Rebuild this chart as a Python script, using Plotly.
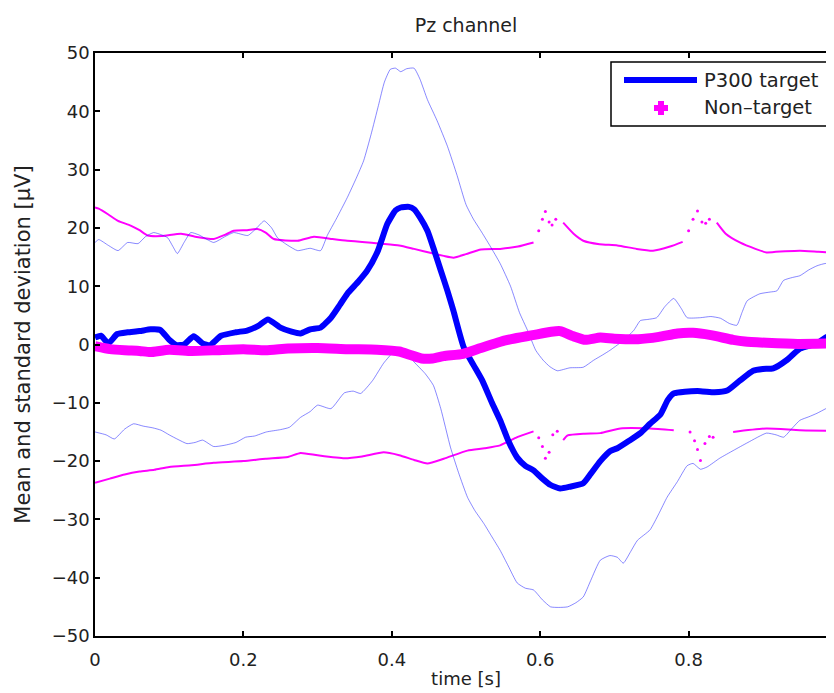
import plotly.graph_objects as go

# ---------------- data ----------------
t_mean_x = [0.0, 0.008, 0.018, 0.03, 0.044, 0.06, 0.075, 0.088, 0.1, 0.11, 0.12, 0.133, 0.145, 0.155, 0.17, 0.19,
            0.205, 0.22, 0.233, 0.25, 0.265, 0.277, 0.29, 0.304, 0.318, 0.33, 0.34, 0.355, 0.367, 0.381, 0.394,
            0.405, 0.412, 0.423, 0.43, 0.438, 0.448, 0.457, 0.466, 0.475, 0.483, 0.497, 0.51, 0.522, 0.535, 0.546,
            0.557, 0.569, 0.58, 0.591, 0.603, 0.614, 0.627, 0.64, 0.658, 0.668, 0.681, 0.694, 0.704, 0.72, 0.735,
            0.748, 0.762, 0.772, 0.78, 0.795, 0.816, 0.835, 0.852, 0.869, 0.887, 0.9, 0.914, 0.932, 0.95, 0.973,
            0.985, 1.0]
t_mean_y = [1.2, 1.5, 0.2, 1.8, 2.1, 2.3, 2.6, 2.5, 0.8, -0.1, 0.0, 1.4, 0.2, -0.1, 1.5, 2.1,
            2.4, 3.2, 4.3, 2.9, 2.2, 1.9, 2.6, 2.9, 4.6, 6.8, 8.7, 10.8, 12.7, 16.0, 20.7,
            23.0, 23.5, 23.6, 23.2, 21.8, 19.5, 16.2, 12.7, 9.2, 5.8, -0.5, -3.5, -6.2, -10.0, -13.0,
            -16.5, -19.4, -20.8, -21.6, -23.0, -24.1, -24.7, -24.4, -23.8, -22.2, -20.0, -18.3, -17.8, -16.5, -15.2,
            -13.6, -12.0, -9.5, -8.4, -8.1, -8.0, -8.2, -7.9, -6.2, -4.5, -4.2, -4.1, -2.7, -0.7, 0.2,
            1.2, 2.0]

t_up_x = [0.0, 0.005, 0.018, 0.031, 0.044, 0.058, 0.068, 0.079, 0.09, 0.098, 0.105, 0.111, 0.12, 0.129, 0.14, 0.16,
          0.175, 0.187, 0.206, 0.218, 0.228, 0.238, 0.246, 0.26, 0.273, 0.29, 0.304, 0.313, 0.325, 0.34, 0.352,
          0.362, 0.372, 0.382, 0.39, 0.398, 0.405, 0.412, 0.42, 0.43, 0.438, 0.448, 0.461, 0.475, 0.488, 0.5,
          0.51, 0.52, 0.532, 0.546, 0.56, 0.572, 0.583, 0.594, 0.604, 0.613, 0.623, 0.64, 0.658, 0.672, 0.684,
          0.694, 0.71, 0.726, 0.735, 0.745, 0.757, 0.768, 0.78, 0.79, 0.798, 0.816, 0.83, 0.843, 0.855, 0.865,
          0.872, 0.879, 0.896, 0.91, 0.919, 0.928, 0.94, 0.95, 0.962, 0.973, 0.985, 1.0]
t_up_y = [17.5, 18.0, 17.0, 16.1, 17.5, 17.3, 18.5, 19.2, 18.8, 18.3, 16.8, 15.6, 17.5, 19.2, 18.8, 17.5,
          18.5, 19.2, 18.7, 20.0, 21.2, 20.0, 18.3, 17.0, 16.1, 16.5, 16.1, 18.7, 21.5, 25.2, 28.5,
          31.5, 36.0, 41.0, 45.0, 47.2, 47.4, 46.8, 47.3, 47.4, 45.5, 42.0, 38.4, 34.0, 29.0, 24.0,
          21.5, 19.5, 17.0, 13.9, 10.0, 5.5, 2.4, -1.0, -2.7, -3.8, -4.5, -4.0, -3.9, -2.7, -1.8,
          -1.0, 0.5, 2.4, 4.1, 4.3, 4.6, 6.5, 7.9, 6.2, 4.6, 4.6, 4.8, 4.5, 3.6, 3.3,
          5.5, 7.5, 8.7, 9.0, 9.2, 11.0, 11.5, 11.8, 12.8, 13.5, 13.9, 13.2]

t_lo_x = [0.0, 0.015, 0.026, 0.04, 0.052, 0.065, 0.078, 0.089, 0.1, 0.112, 0.124, 0.135, 0.145, 0.16, 0.174, 0.19,
          0.203, 0.215, 0.231, 0.25, 0.262, 0.277, 0.29, 0.3, 0.318, 0.336, 0.348, 0.358, 0.374, 0.389, 0.403,
          0.412, 0.42, 0.43, 0.445, 0.456, 0.466, 0.479, 0.49, 0.502, 0.512, 0.524, 0.535, 0.546, 0.557, 0.569,
          0.58, 0.591, 0.603, 0.614, 0.625, 0.637, 0.648, 0.658, 0.668, 0.681, 0.694, 0.704, 0.712, 0.722, 0.731,
          0.748, 0.76, 0.771, 0.785, 0.798, 0.806, 0.816, 0.825, 0.842, 0.86, 0.88, 0.905, 0.918, 0.928, 0.94,
          0.95, 0.962, 0.973, 0.985, 1.0]
t_lo_y = [-15.0, -15.5, -16.2, -14.5, -13.6, -14.0, -14.3, -14.7, -15.5, -16.3, -17.0, -16.8, -16.4, -17.5, -17.3, -16.8,
          -15.9, -15.7, -15.0, -14.6, -14.2, -12.5, -11.5, -10.4, -11.0, -8.3, -8.0, -8.4, -6.2, -3.2, -1.2,
          -0.8, -1.5, -3.0, -5.0, -7.0, -11.0, -17.6, -22.0, -26.2, -28.5, -30.7, -33.0, -35.3, -38.0, -40.9,
          -41.8, -42.1, -43.8, -45.0, -45.1, -45.0, -44.3, -43.3, -40.5, -37.0, -36.2, -36.5, -37.5, -35.5, -33.6,
          -31.8, -29.0, -26.2, -23.5, -20.8, -20.4, -21.4, -21.0, -19.5, -18.2, -16.8, -15.2, -15.5, -15.9, -14.3,
          -13.0, -12.4, -11.8, -11.0, -10.0]

nt_mean_x = [0.0, 0.02, 0.04, 0.06, 0.074, 0.1, 0.13, 0.16, 0.2, 0.23, 0.26, 0.3, 0.34, 0.38, 0.41, 0.425, 0.44,
             0.455, 0.47, 0.496, 0.52, 0.553, 0.59, 0.615, 0.627, 0.645, 0.661, 0.681, 0.7, 0.732, 0.76, 0.785,
             0.806, 0.83, 0.86, 0.876, 0.905, 0.947, 1.0]
nt_mean_y = [-0.3, -0.8, -1.0, -1.1, -1.3, -0.9, -1.1, -1.0, -0.8, -1.0, -0.7, -0.6, -0.8, -0.9, -1.2, -1.8, -2.4,
             -2.4, -2.0, -1.6, -0.6, 0.7, 1.6, 2.2, 2.3, 1.4, 0.8, 1.2, 1.0, 0.9, 1.3, 1.9,
             2.0, 1.6, 0.8, 0.5, 0.3, 0.1, 0.2]

nt_up_x = [0.0, 0.005, 0.018, 0.031, 0.048, 0.06, 0.071, 0.09, 0.116, 0.135, 0.16, 0.175, 0.187, 0.205, 0.219, 0.23,
           0.241, 0.273, 0.295, 0.32, 0.34, 0.36, 0.385, 0.41, 0.43, 0.456, 0.47, 0.483, 0.5, 0.52, 0.546, 0.57,
           0.591, 0.598, 0.603, 0.607, 0.612, 0.616, 0.621, 0.631, 0.645, 0.658, 0.68, 0.704, 0.73, 0.752, 0.775,
           0.792, 0.8, 0.806, 0.812, 0.818, 0.823, 0.828, 0.838, 0.85, 0.869, 0.89, 0.905, 0.93, 0.95, 0.975, 1.0]
nt_up_y = [23.5, 23.3, 22.3, 21.2, 20.4, 19.6, 18.7, 18.6, 19.0, 18.5, 18.1, 18.8, 19.5, 19.6, 19.8, 19.2,
           18.1, 17.8, 18.5, 18.1, 17.8, 17.6, 17.3, 17.0, 16.4, 15.6, 15.2, 14.9, 15.5, 16.3, 16.4, 16.8,
           17.5, 19.5, 21.5, 22.8, 21.0, 20.5, 21.5, 20.9, 19.0, 17.8, 17.2, 17.0, 16.4, 16.1, 16.8,
           17.6, 19.5, 21.5, 22.9, 21.0, 20.8, 21.5, 20.9, 19.0, 17.5, 16.4, 15.8, 16.0, 16.1, 15.9, 15.7]

nt_lo_x = [0.0, 0.02, 0.04, 0.06, 0.08, 0.1, 0.13, 0.16, 0.2, 0.23, 0.26, 0.277, 0.3, 0.336, 0.36, 0.389, 0.41,
           0.43, 0.448, 0.47, 0.502, 0.525, 0.546, 0.569, 0.591, 0.598, 0.603, 0.607, 0.612, 0.617, 0.623, 0.631,
           0.637, 0.66, 0.681, 0.708, 0.748, 0.78, 0.802, 0.808, 0.812, 0.816, 0.822, 0.828, 0.833, 0.86, 0.905,
           0.95, 1.0]
nt_lo_y = [-23.7, -23.0, -22.3, -21.8, -21.5, -21.0, -20.7, -20.3, -20.0, -19.6, -19.3, -18.6, -19.0, -19.5, -19.2, -18.5, -19.0,
           -19.8, -20.4, -19.6, -18.2, -17.8, -17.3, -15.9, -14.9, -16.0, -17.5, -19.5, -18.5, -15.5, -14.9, -16.4,
           -15.6, -15.3, -15.2, -14.4, -14.4, -14.7, -15.0, -16.5, -18.0, -19.9, -17.0, -15.8, -15.9, -15.0, -14.4,
           -14.7, -14.8]

# time windows where the thin non-target curves are rendered as sparse dots
dot_windows = [(0.594, 0.626), (0.797, 0.834)]

x_ticks = [0, 0.2, 0.4, 0.6, 0.8, 1]
x_tick_text = ["0", "0.2", "0.4", "0.6", "0.8", "1"]
y_ticks = [-50, -40, -30, -20, -10, 0, 10, 20, 30, 40, 50]

legend_names = ["P300 target", "Non–target"]

BLUE = "#0000ff"
THIN_BLUE = "rgba(40,40,255,0.55)"
MAGENTA = "#ff00ff"
FONT = "DejaVu Sans, Liberation Sans, Arial, sans-serif"
TXT = "#222"

# figure geometry (pixels in figure coordinates)
W, H = 834, 693
ML, MR, MT, MB = 87, 5, 45, 65
PW, PH = W - ML - MR, H - MT - MB


def px(xp):
    return (xp - ML) / PW


def py(yp):
    return (H - MB - yp) / PH


def in_dots(x):
    return any(a <= x <= b for a, b in dot_windows)


def split(xs, ys):
    solid_y = [None if in_dots(x) else y for x, y in zip(xs, ys)]
    dx = [x for x in xs if in_dots(x)]
    dy = [y for x, y in zip(xs, ys) if in_dots(x)]
    return solid_y, dx, dy


SMOOTH = dict(shape="spline", smoothing=0.5)

fig = go.Figure()

# non-target thin curves (mean +/- std)
for xs, ys in [(nt_up_x, nt_up_y), (nt_lo_x, nt_lo_y)]:
    sy, dx, dy = split(xs, ys)
    fig.add_trace(go.Scatter(x=xs, y=sy, mode="lines", line=dict(color=MAGENTA, width=2, **SMOOTH),
                             showlegend=False, hoverinfo="skip", connectgaps=False))
    fig.add_trace(go.Scatter(x=dx, y=dy, mode="markers", marker=dict(color=MAGENTA, size=3),
                             showlegend=False, hoverinfo="skip"))

# target thin curves (mean +/- std)
for xs, ys in [(t_up_x, t_up_y), (t_lo_x, t_lo_y)]:
    fig.add_trace(go.Scatter(x=xs, y=ys, mode="lines", line=dict(color=THIN_BLUE, width=1, **SMOOTH),
                             showlegend=False, hoverinfo="skip"))

# target mean
fig.add_trace(go.Scatter(x=t_mean_x, y=t_mean_y, mode="lines", name=legend_names[0],
                         line=dict(color=BLUE, width=6, **SMOOTH), showlegend=False))

# non-target mean (thick band)
fig.add_trace(go.Scatter(x=nt_mean_x, y=nt_mean_y, mode="lines", name=legend_names[1],
                         line=dict(color=MAGENTA, width=10, **SMOOTH), showlegend=False))

axis_common = dict(showline=True, linecolor="black", linewidth=1.5, mirror="ticks",
                   ticks="inside", ticklen=5, tickwidth=1.5, tickcolor="black",
                   showgrid=False, zeroline=False,
                   tickfont=dict(family=FONT, size=18, color=TXT))

# ---- legend box drawn by hand (MATLAB style) ----
bx0, bx1, by0, by1 = 603, 819, 54, 118
shapes = [
    dict(type="rect", xref="paper", yref="paper", x0=px(bx0), x1=px(bx1), y0=py(by1), y1=py(by0),
         line=dict(color="black", width=1.5), fillcolor="white", layer="above"),
    dict(type="line", xref="paper", yref="paper", x0=px(616), x1=px(689), y0=py(72), y1=py(72),
         line=dict(color=BLUE, width=6), layer="above"),
]
cx, cy, a, b = 653, 100, 7, 3
plus = [(cx - b, cy - a), (cx + b, cy - a), (cx + b, cy - b), (cx + a, cy - b), (cx + a, cy + b), (cx + b, cy + b),
        (cx + b, cy + a), (cx - b, cy + a), (cx - b, cy + b), (cx - a, cy + b), (cx - a, cy - b), (cx - b, cy - b)]
path = "M " + " L ".join(f"{px(x):.5f},{py(y):.5f}" for x, y in plus) + " Z"
shapes.append(dict(type="path", xref="paper", yref="paper", path=path,
                   fillcolor=MAGENTA, line=dict(color=MAGENTA, width=0), layer="above"))

annotations = [
    dict(text=legend_names[0], xref="paper", yref="paper", x=px(694), y=py(72), xanchor="left", yanchor="middle",
         showarrow=False, font=dict(family=FONT, size=19.5, color=TXT)),
    dict(text=legend_names[1], xref="paper", yref="paper", x=px(694), y=py(100), xanchor="left", yanchor="middle",
         showarrow=False, font=dict(family=FONT, size=19.5, color=TXT)),
]

fig.update_layout(
    width=W, height=H,
    margin=dict(l=ML, r=MR, t=MT, b=MB, autoexpand=False),
    paper_bgcolor="white", plot_bgcolor="white",
    title=dict(text="Pz channel", xref="paper", x=0.5, xanchor="center",
               yref="container", y=1 - 17 / H, yanchor="middle",
               font=dict(family=FONT, size=19, color=TXT)),
    xaxis=dict(range=[0, 1], tickvals=x_ticks, ticktext=x_tick_text, ticklabelstandoff=7,
               title=dict(text="time [s]", font=dict(family=FONT, size=18, color=TXT), standoff=3),
               **axis_common),
    yaxis=dict(range=[-50, 50], tickvals=y_ticks,
               title=dict(text="Mean and standard deviation [µV]", font=dict(family=FONT, size=21, color=TXT),
                          standoff=15),
               **axis_common),
    shapes=shapes,
    annotations=annotations,
    showlegend=False,
)

fig.write_html("out.html")
